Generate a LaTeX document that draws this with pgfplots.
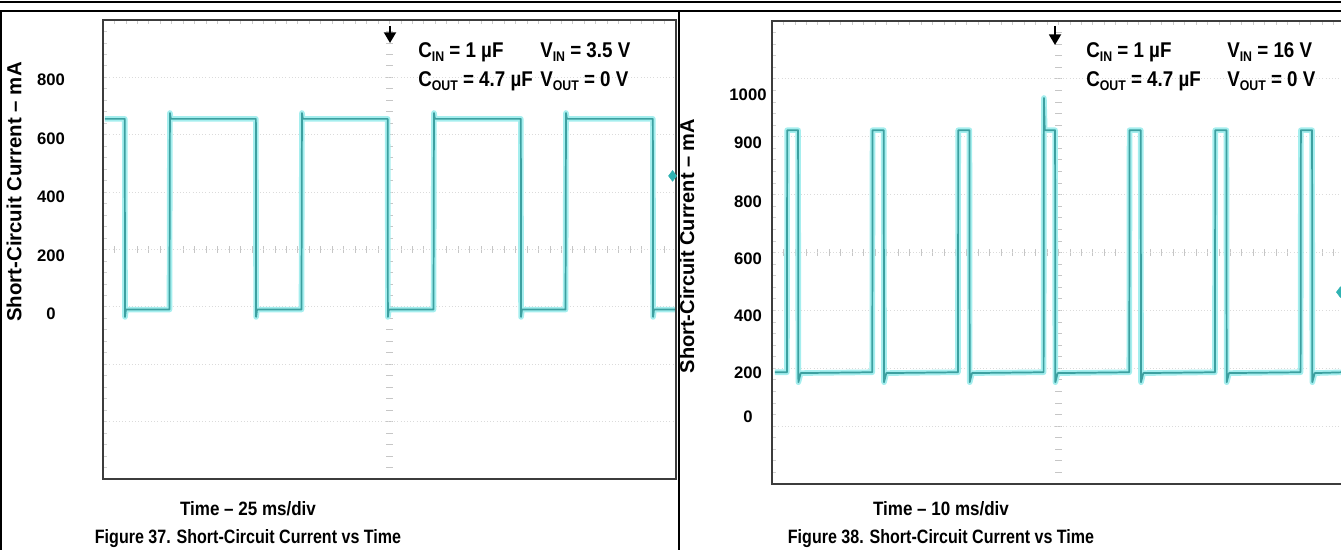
\documentclass[border=0pt]{standalone}
\usepackage{fontspec}
\setmainfont{Liberation Sans}
\newfontfamily\condA{Liberation Sans}[FakeStretch=0.83]
\newfontfamily\condB{Liberation Sans}[FakeStretch=0.88]
\newfontfamily\condC{Liberation Sans}[FakeStretch=0.88]
\usepackage{graphicx}
\usepackage{pgfplots}
\usepackage{pgfplotstable}
\pgfplotsset{compat=1.18}
\usetikzlibrary{arrows.meta}
\definecolor{trace}{RGB}{60,160,160}
\definecolor{glow}{RGB}{165,238,238}
\definecolor{frame}{RGB}{60,60,60}
\newcommand\sub[1]{\raisebox{-2.6pt}{\fontsize{10.5}{11}\selectfont #1}}

% Figure 37: time (ms), current (mA)
\pgfplotstableread{
t i
0.8 667
9.5 667
9.6 -10
10.0 15
29.0 15
29.2 687
29.6 667
66.7 667
66.8 -10
67.2 15
86.6 15
86.8 687
87.2 667
124.2 667
124.3 -10
124.7 15
144.2 15
144.4 687
144.8 667
182.3 667
182.4 -10
182.8 15
201.8 15
202.0 687
202.4 667
239.9 667
240.0 -10
240.4 15
249.5 15
}\leftdata

% Figure 38: time (ms), current (mA)
\pgfplotstableread{
t i
0.5 203
2.6 203
2.65 1052
4.55 1052
4.6 168
5.0 200
17.5 203
17.55 1052
19.5 1052
19.55 168
19.95 200
32.45 203
32.5 1052
34.45 1052
34.5 168
34.9 200
47.4 203
47.45 1165
47.6 1052
49.4 1052
49.45 168
49.85 200
62.35 203
62.4 1052
64.35 1052
64.4 168
64.8 200
77.3 203
77.35 1052
79.3 1052
79.35 168
79.75 200
92.25 203
92.3 1052
94.25 1052
94.3 168
94.7 200
99.9 203
}\rightdata

\pgfplotsset{
  scopeaxis/.style={
    scale only axis, width=429.75pt, anchor=south west,
    axis line style={draw=frame, line width=1.1pt},
    major tick length=0pt, minor tick length=0pt,
    xtick=\empty,
    grid=minor,
    minor grid style={gray!28, dotted, line width=0.7pt},
    yticklabel style={anchor=center, font=\bfseries\fontsize{12.5}{14}\selectfont},
  },
}

\begin{document}
\begin{tikzpicture}[x=0.75pt,y=0.75pt]
\useasboundingbox (0,0) rectangle (1341,550);
% table rules
\draw[line width=1.1pt] (0,548) -- (1341,548);
\draw[line width=0.8pt] (0,539) -- (1341,539);
\draw[line width=0.8pt] (1,539) -- (1,0);
\draw[line width=0.8pt] (679,539) -- (679,0);

% scope decorations (left)
\foreach \j in {1,...,39}{
  \draw[gray!45, line width=0.6pt] (386,{530-\j*11.475}) -- (393,{530-\j*11.475});
  \draw[gray!35, line width=0.6pt] (103,{530-\j*11.475}) -- (107,{530-\j*11.475});
}
\foreach \j in {1,...,49}{
  \draw[gray!45, line width=0.6pt] ({103+\j*11.46},297) -- ({103+\j*11.46},304);
  \draw[gray!40, line width=0.6pt] ({103+\j*11.46},530) -- ({103+\j*11.46},526);
}
% scope decorations (right)
\foreach \j in {1,...,39}{
  \draw[gray!45, line width=0.6pt] (1055,{529-\j*11.575}) -- (1062,{529-\j*11.575});
  \draw[gray!35, line width=0.6pt] (772,{529-\j*11.575}) -- (776,{529-\j*11.575});
}
\foreach \j in {1,...,49}{
  \draw[gray!45, line width=0.6pt] ({772+\j*11.46},294) -- ({772+\j*11.46},301);
  \draw[gray!40, line width=0.6pt] ({772+\j*11.46},529) -- ({772+\j*11.46},525);
}

\begin{axis}[scopeaxis, at={(77.25pt,53.25pt)}, height=344.25pt,
  xmin=0, xmax=250, ymin=-564, ymax=1005,
  minor xtick={25,50,...,225},
  minor ytick={-367.9,-171.8,24.4,220.5,416.6,612.8,808.9},
  ytick={0,200,400,600,800},
  yticklabels={0,200,400,600,800},
  yticklabel style={xshift=-39pt},
]
\addplot[glow, line width=4.2pt, line join=round] table[x=t,y=i] {\leftdata};
\addplot[trace, line width=1.3pt, line join=round] table[x=t,y=i] {\leftdata};
\addplot[only marks, mark=diamond*, mark size=4pt, color=trace!80!cyan] coordinates {(248.5,472)};
\end{axis}

\begin{axis}[scopeaxis, at={(579pt,49.5pt)}, height=347.25pt,
  xmin=0, xmax=100, ymin=-189, ymax=1435,
  minor xtick={10,20,...,90},
  minor ytick={14,217,420,623,826,1029,1232},
  ytick={46,200,400,600,800,1007,1175},
  yticklabels={0,200,400,600,800,900,1000},
  yticklabel style={xshift=-18pt},
]
\addplot[glow, line width=4.2pt, line join=round] table[x=t,y=i] {\rightdata};
\addplot[trace, line width=1.3pt, line join=round] table[x=t,y=i] {\rightdata};
\addplot[only marks, mark=diamond*, mark size=4pt, color=trace!80!cyan] coordinates {(99.2,484)};
\end{axis}

% trigger arrows
\draw[line width=1.4pt, -{Triangle[length=8pt,width=9pt]}] (390,524) -- (390,507);
\draw[line width=1.4pt, -{Triangle[length=8pt,width=9pt]}] (1055,524) -- (1055,505);

% annotations
\begin{scope}[every node/.style={font=\condC\bfseries\fontsize{16}{18}\selectfont, inner sep=0pt}]
\node[anchor=base west] at (418,492) {C\sub{IN} = 1 µF};
\node[anchor=base west] at (540,492) {V\sub{IN} = 3.5 V};
\node[anchor=base west] at (418,463) {C\sub{OUT} = 4.7 µF};
\node[anchor=base west] at (540,463) {V\sub{OUT} = 0 V};
\node[anchor=base west] at (1086,492) {C\sub{IN} = 1 µF};
\node[anchor=base west] at (1227,492) {V\sub{IN} = 16 V};
\node[anchor=base west] at (1086,463) {C\sub{OUT} = 4.7 µF};
\node[anchor=base west] at (1227,463) {V\sub{OUT} = 0 V};
\end{scope}
% x labels and captions
\begin{scope}[every node/.style={inner sep=0pt}]
\node[anchor=base, font=\condB\bfseries\fontsize{14.5}{17}\selectfont] at (248,35) {Time – 25 ms/div};
\node[anchor=base, font=\condB\bfseries\fontsize{14.5}{17}\selectfont] at (941,35) {Time – 10 ms/div};
\node[anchor=base, font=\condA\bfseries\fontsize{14.5}{17}\selectfont] at (248,7) {Figure 37. Short-Circuit Current vs Time};
\node[anchor=base, font=\condA\bfseries\fontsize{14.5}{17}\selectfont] at (941,7) {Figure 38. Short-Circuit Current vs Time};
% y labels
\node[rotate=90, font=\bfseries\fontsize{15.3}{17}\selectfont] at (14,358) {Short-Circuit Current – mA};
\node[rotate=90, font=\bfseries\fontsize{15}{17}\selectfont] at (687,304) {Short-Circuit Current – mA};
\end{scope}
\end{tikzpicture}
\end{document}
